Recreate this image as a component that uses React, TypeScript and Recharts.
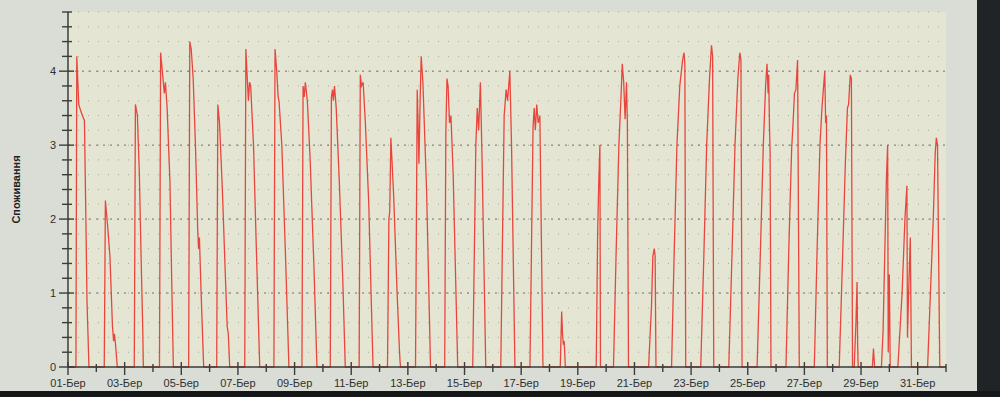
import { LineChart, Line, XAxis, YAxis, CartesianGrid, ReferenceLine } from "recharts";

// час у днях березня (1 = 01-Бер 00:00) і споживання; по рядку на добу
const dayTime = [
  1.0,
  1.28, 1.31, 1.38, 1.46, 1.58, 1.63, 1.67, 1.74,
  2.28, 2.32, 2.4, 2.48, 2.57, 2.61, 2.64, 2.68, 2.74,
  3.34, 3.38, 3.45, 3.52, 3.58, 3.64, 3.66,
  4.23, 4.27, 4.33, 4.4, 4.44, 4.5, 4.6, 4.66, 4.72,
  5.26, 5.3, 5.35, 5.42, 5.5, 5.58, 5.61, 5.64, 5.7, 5.79,
  6.25, 6.29, 6.35, 6.45, 6.55, 6.62, 6.66, 6.71,
  7.24, 7.28, 7.33, 7.37, 7.41, 7.45, 7.55, 7.65, 7.77,
  8.27, 8.31, 8.37, 8.42, 8.45, 8.55, 8.68, 8.8,
  9.26, 9.3, 9.34, 9.38, 9.45, 9.55, 9.68, 9.79,
  10.26, 10.3, 10.34, 10.37, 10.41, 10.47, 10.58, 10.7, 10.79,
  11.28, 11.32, 11.36, 11.42, 11.5, 11.62, 11.7, 11.77,
  12.28, 12.33, 12.36, 12.4, 12.5, 12.62, 12.7, 12.72, 12.74,
  13.27, 13.33, 13.36, 13.39, 13.43, 13.47, 13.53, 13.66, 13.8,
  14.3, 14.34, 14.38, 14.42, 14.47, 14.52, 14.6, 14.76,
  15.29, 15.4, 15.45, 15.5, 15.56, 15.62, 15.75,
  16.28, 16.4, 16.47, 16.52, 16.6, 16.66, 16.78,
  17.31, 17.42, 17.46, 17.5, 17.55, 17.6, 17.66, 17.77,
  18.38, 18.43, 18.46, 18.49, 18.52, 18.56,
  19.65, 19.7, 19.74, 19.78, 19.8,
  20.26, 20.35, 20.45, 20.52, 20.57, 20.62, 20.67, 20.72, 20.75, 20.79,
  21.5, 21.56, 21.6, 21.65, 21.7, 21.73, 21.76,
  22.31, 22.4, 22.5, 22.6, 22.7, 22.75, 22.78, 22.81,
  23.34, 23.45, 23.55, 23.65, 23.72, 23.76, 23.8,
  24.33, 24.45, 24.55, 24.65, 24.72, 24.76, 24.8,
  25.33, 25.45, 25.55, 25.63, 25.68, 25.72, 25.74, 25.77, 25.79, 25.82,
  26.35, 26.45, 26.55, 26.6, 26.65, 26.7, 26.76, 26.82,
  27.35, 27.45, 27.55, 27.62, 27.72, 27.75, 27.78, 27.81,
  28.23, 28.35, 28.45, 28.52, 28.56, 28.62, 28.66, 28.7,
  28.76, 28.82, 28.86, 28.88, 28.9,
  29.4, 29.44, 29.48,
  29.72, 29.78, 29.85, 29.9, 29.94, 29.96, 30.0, 30.03,
  30.3, 30.45, 30.55, 30.62, 30.64, 30.68, 30.74, 30.78,
  31.35, 31.45, 31.55, 31.62, 31.66, 31.7, 31.78,
  32.0,
];

const consumption = [
  0,
  0, 4.2, 3.55, 3.45, 3.33, 2.05, 0.9, 0,
  0, 2.25, 1.9, 1.5, 0.55, 0.35, 0.45, 0.3, 0,
  0, 3.55, 3.4, 2.6, 1.5, 0.5, 0,
  0, 4.25, 4.0, 3.7, 3.85, 3.5, 2.5, 1.2, 0,
  0, 4.4, 4.3, 3.9, 3.0, 1.85, 1.6, 1.75, 1.0, 0,
  0, 3.55, 3.3, 2.4, 1.3, 0.55, 0.45, 0,
  0, 4.3, 3.9, 3.6, 3.85, 3.8, 3.0, 1.6, 0,
  0, 4.3, 4.0, 3.65, 3.6, 3.0, 1.5, 0,
  0, 3.8, 3.65, 3.85, 3.6, 2.8, 1.4, 0,
  0, 3.65, 3.75, 3.6, 3.8, 3.5, 2.5, 1.2, 0,
  0, 3.95, 3.8, 3.85, 3.3, 2.2, 1.0, 0,
  0, 2.0, 2.1, 3.1, 2.3, 1.0, 0.25, 0.1, 0,
  0, 3.75, 3.3, 2.75, 3.55, 4.2, 3.85, 2.4, 0,
  0, 3.15, 3.9, 3.8, 3.3, 3.4, 2.6, 0,
  0, 3.0, 3.5, 3.2, 3.85, 2.8, 0,
  0, 3.4, 3.75, 3.6, 4.0, 3.0, 0,
  0, 3.25, 3.5, 3.2, 3.55, 3.3, 3.4, 0,
  0, 0.75, 0.45, 0.3, 0.35, 0,
  0, 1.8, 2.5, 3.0, 0,
  0, 1.5, 3.0, 3.6, 4.1, 3.85, 3.35, 3.85, 3.3, 0,
  0, 0.5, 0.8, 1.5, 1.6, 1.5, 0,
  0, 1.5, 3.0, 3.8, 4.15, 4.25, 4.1, 0,
  0, 1.5, 3.0, 3.9, 4.35, 4.2, 0,
  0, 1.6, 3.0, 3.9, 4.25, 4.15, 0,
  0, 1.6, 3.0, 3.8, 4.1, 3.7, 3.95, 3.2, 2.9, 0,
  0, 1.6, 2.95, 3.3, 3.7, 3.75, 4.15, 0,
  0, 1.6, 3.0, 3.5, 4.0, 3.3, 3.4, 0,
  0, 1.5, 2.8, 3.5, 3.55, 3.95, 3.9, 0,
  0, 0.6, 1.15, 0.3, 0,
  0, 0.25, 0,
  0, 0.5, 1.75, 2.6, 3.0, 0.2, 1.25, 0,
  0, 1.0, 2.0, 2.45, 0.4, 1.0, 1.75, 0,
  0, 1.0, 2.0, 2.9, 3.1, 3.0, 0,
  0,
];

const dayTicks = [
  1, 2, 3, 4, 5, 6, 7, 8, 9, 10, 11, 12, 13, 14, 15, 16,
  17, 18, 19, 20, 21, 22, 23, 24, 25, 26, 27, 28, 29, 30, 31, 32,
];
const valueTicks = [
  0, 0.2, 0.4, 0.6, 0.8, 1, 1.2, 1.4, 1.6, 1.8, 2, 2.2, 2.4, 2.6, 2.8, 3,
  3.2, 3.4, 3.6, 3.8, 4, 4.2, 4.4, 4.6, 4.8,
];
const majorValues = [1, 2, 3, 4];

const data = dayTime.map((t, i) => ({ t, v: consumption[i] }));

const FONT = "'Liberation Sans', Arial, sans-serif";

function DayTick(props: any) {
  const { x, y, payload } = props;
  const d = payload.value as number;
  const major = d % 2 === 1;
  return (
    <g>
      <line x1={x} x2={x} y1={y - (major ? 5 : 3)} y2={y + (major ? 8 : 5)} stroke="#3b3d3a" strokeWidth={1.4} />
      {major && d <= 31 && (
        <text x={x} y={y + 20} textAnchor="middle" fontSize={11} fill="#2e302e" fontFamily={FONT}>
          {String(d).padStart(2, "0")}-Бер
        </text>
      )}
    </g>
  );
}

function ValueTick(props: any) {
  const { x, y, payload } = props;
  const v = payload.value as number;
  const major = Math.abs(v - Math.round(v)) < 1e-6;
  return (
    <g>
      <line x1={x - (major ? 9 : 6)} x2={x + (major ? 6 : 4)} y1={y} y2={y} stroke="#3b3d3a" strokeWidth={1.4} />
      {major && (
        <text x={x - 12} y={y} dy={4} textAnchor="end" fontSize={11} fill="#2e302e" fontFamily={FONT}>
          {v}
        </text>
      )}
    </g>
  );
}

export default function App() {
  return (
    <div
      style={{
        position: "fixed",
        left: 0,
        top: 0,
        width: 1000,
        height: 397,
        background: "#d9ddd6",
        overflow: "hidden",
      }}
    >
      <LineChart width={1000} height={397} data={data} margin={{ top: 12, right: 54, bottom: 2, left: 18 }}>
        <CartesianGrid vertical={false} fill="#e4e6d3" stroke="#a6a898" strokeDasharray="1 9" />
        {majorValues.map((m) => (
          <ReferenceLine key={m} y={m} stroke="#6f7168" strokeDasharray="2 5" />
        ))}
        <XAxis
          dataKey="t"
          type="number"
          domain={[1, 32]}
          ticks={dayTicks}
          interval={0}
          tick={<DayTick />}
          tickLine={false}
          tickSize={0}
          tickMargin={0}
          height={28}
          axisLine={{ stroke: "#3b3d3a", strokeWidth: 1.5 }}
        />
        <YAxis
          type="number"
          domain={[0, 4.8]}
          ticks={valueTicks}
          interval={0}
          tick={<ValueTick />}
          tickLine={false}
          tickSize={0}
          tickMargin={0}
          width={50}
          axisLine={{ stroke: "#3b3d3a", strokeWidth: 1.5 }}
          label={{
            value: "Споживання",
            angle: -90,
            position: "insideLeft",
            offset: -2,
            style: { fontWeight: "bold", fontSize: 11, fill: "#1f211f", textAnchor: "middle", fontFamily: FONT },
          }}
        />
        <Line
          type="linear"
          dataKey="v"
          stroke="#e8463d"
          strokeWidth={1.3}
          dot={false}
          isAnimationActive={false}
        />
      </LineChart>
      <div style={{ position: "absolute", left: 977, top: 0, width: 23, height: 397, background: "#202427" }} />
      <div style={{ position: "absolute", left: 0, top: 391, width: 1000, height: 6, background: "#161719" }} />
    </div>
  );
}
